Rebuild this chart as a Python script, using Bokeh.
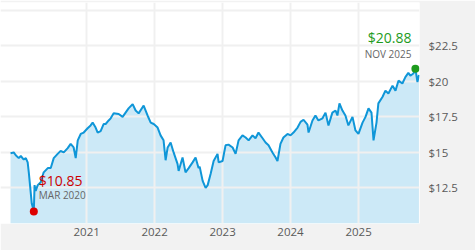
import pandas as pd
from bokeh.plotting import figure
from bokeh.models import Range1d, FixedTicker, CustomJSTickFormatter, Label, ColumnDataSource
from bokeh.embed import file_html
from bokeh.resources import INLINE

# ---- data ----
dates = [
    "2019-11-19", "2019-12-06", "2019-12-17", "2020-01-02", "2020-01-13", "2020-01-29", "2020-02-09",
    "2020-02-19", "2020-02-25", "2020-03-04", "2020-03-12", "2020-03-23", "2020-03-27", "2020-04-02",
    "2020-04-13", "2020-04-29", "2020-05-15", "2020-06-06", "2020-06-22", "2020-07-08", "2020-07-29",
    "2020-08-14", "2020-08-31", "2020-09-21", "2020-10-07", "2020-10-23", "2020-11-03", "2020-11-14",
    "2020-11-30", "2020-12-16", "2021-01-06", "2021-01-22", "2021-02-02", "2021-02-18", "2021-03-01",
    "2021-03-17", "2021-04-02", "2021-04-13", "2021-04-29", "2021-05-10", "2021-05-26", "2021-06-22",
    "2021-07-13", "2021-07-29", "2021-08-14", "2021-09-05", "2021-09-21", "2021-10-07", "2021-10-29",
    "2021-11-03", "2021-11-24", "2021-12-11", "2021-12-27", "2022-01-17", "2022-02-02", "2022-02-18",
    "2022-03-01", "2022-03-12", "2022-03-28", "2022-04-13", "2022-05-04", "2022-05-10", "2022-05-31",
    "2022-06-16", "2022-07-03", "2022-07-24", "2022-08-09", "2022-08-25", "2022-08-31", "2022-09-16",
    "2022-10-02", "2022-10-13", "2022-10-29", "2022-11-14", "2022-12-05", "2022-12-11", "2023-01-01",
    "2023-01-17", "2023-02-02", "2023-02-24", "2023-03-12", "2023-03-28", "2023-04-18", "2023-05-05",
    "2023-05-21", "2023-06-11", "2023-06-27", "2023-07-13", "2023-08-04", "2023-08-20", "2023-09-05",
    "2023-09-26", "2023-10-13", "2023-10-23", "2023-11-08", "2023-11-24", "2023-12-16", "2024-01-01",
    "2024-01-17", "2024-02-08", "2024-02-24", "2024-03-11", "2024-04-01", "2024-04-07", "2024-04-28",
    "2024-05-14", "2024-05-30", "2024-06-21", "2024-07-07", "2024-07-23", "2024-08-13", "2024-08-30",
    "2024-09-09", "2024-09-20", "2024-10-06", "2024-10-22", "2024-11-07", "2024-11-29", "2024-12-15",
    "2024-12-31", "2025-01-22", "2025-02-07", "2025-02-23", "2025-03-11", "2025-03-22", "2025-04-07",
    "2025-04-17", "2025-05-09", "2025-05-25", "2025-06-10", "2025-07-02", "2025-07-18", "2025-08-03",
    "2025-08-24", "2025-09-09", "2025-09-25", "2025-10-06", "2025-10-22", "2025-11-02", "2025-11-13",
    "2025-11-21",
]
prices = [
    14.95, 15.00, 14.80, 14.60, 14.75, 14.50, 14.60,
    14.30, 13.60, 12.50, 11.40, 10.85, 12.70, 12.30,
    12.70, 12.90, 13.60, 13.90, 13.90, 14.60, 14.90,
    15.10, 15.00, 15.30, 15.60, 15.35, 14.60, 15.85,
    16.30, 16.40, 16.70, 16.90, 17.10, 16.75, 16.40,
    16.50, 17.00, 17.00, 17.25, 17.40, 17.75, 17.70,
    17.50, 17.80, 18.10, 18.40, 17.95, 17.75, 18.20,
    18.30, 17.60, 17.10, 17.00, 16.75, 16.20, 15.85,
    14.45, 15.35, 15.70, 15.00, 14.20, 13.70, 14.65,
    13.60, 13.90, 14.30, 14.65, 13.90, 14.00, 13.00,
    12.50, 12.70, 13.50, 14.40, 14.90, 14.30, 14.40,
    15.50, 15.55, 15.35, 14.90, 15.85, 16.20, 16.05,
    15.85, 16.20, 16.00, 16.40, 16.00, 15.70, 15.50,
    15.00, 14.65, 14.40, 15.60, 16.05, 16.30, 16.20,
    16.40, 16.75, 17.15, 17.30, 16.95, 16.40, 17.25,
    17.60, 17.25, 17.40, 17.80, 16.90, 17.80, 17.95,
    17.60, 18.45, 17.95, 17.60, 16.90, 17.50, 16.55,
    16.30, 17.10, 17.50, 18.10, 17.80, 15.85, 17.10,
    18.45, 18.90, 19.35, 19.15, 19.70, 19.35, 20.05,
    19.85, 20.30, 20.60, 20.40, 20.55, 20.88, 19.95,
    20.45,
]
year_ticks = [2021, 2022, 2023, 2024, 2025]
price_ticks = [12.5, 15, 17.5, 20, 22.5, 25]

# ---- derived ----
dt = pd.to_datetime(dates)
src = ColumnDataSource(dict(x=dt, y=prices))
i_min = prices.index(min(prices))
i_max = prices.index(max(prices))
min_src = ColumnDataSource(dict(x=[dt[i_min]], y=[prices[i_min]]))
max_src = ColumnDataSource(dict(x=[dt[i_max]], y=[prices[i_max]]))
year_ms = [pd.Timestamp(f"{y}-01-01").value / 1e6 for y in year_ticks]

AX_FONT = "Open Sans"
AX_COLOR = "#5a5a5a"
GRID = "#f0f0f0"
PANEL = "#f2f2f2"

p = figure(
    width=475, height=250,
    x_axis_type="datetime",
    x_axis_location="below", y_axis_location="right",
    x_range=Range1d(dt[0] - pd.Timedelta(days=54), dt[-1] + pd.Timedelta(days=3)),
    y_range=Range1d(10, 25.55),
    output_backend="svg", toolbar_location=None,
    min_border_left=0, min_border_top=2, min_border_right=56, min_border_bottom=27,
    background_fill_color="white", border_fill_color=PANEL,
    outline_line_color=None,
)

p.varea(x="x", y1=10, y2="y", source=src, fill_color="#cce9f7", level="image")
p.line(x="x", y="y", source=src, line_color="#0f96d8", line_width=2)

# grids
p.xgrid.ticker = FixedTicker(ticks=year_ms)
p.ygrid.ticker = FixedTicker(ticks=price_ticks)
for g in (p.xgrid, p.ygrid):
    g.grid_line_color = GRID
    g.grid_line_width = 2
    g.level = "underlay"

# axes
xa = p.xaxis[0]
xa.ticker = FixedTicker(ticks=year_ms)
xa.formatter = CustomJSTickFormatter(code="return String(new Date(tick).getUTCFullYear());")
ya = p.yaxis[0]
ya.ticker = FixedTicker(ticks=price_ticks)
ya.formatter = CustomJSTickFormatter(code="return tick >= 25 ? '' : '$' + tick;")
for ax in (xa, ya):
    ax.axis_line_color = None
    ax.major_tick_line_color = None
    ax.minor_tick_line_color = None
    ax.major_tick_out = 0
    ax.major_tick_in = 0
    ax.minor_tick_out = 0
    ax.minor_tick_in = 0
    ax.major_label_text_font = AX_FONT
    ax.major_label_text_font_size = "11.5px"
    ax.major_label_text_color = AX_COLOR
xa.major_label_standoff = 4
ya.major_label_standoff = 9

# markers
p.scatter(x="x", y="y", source=min_src, size=8, fill_color="#dd0000", line_color=None)
p.scatter(x="x", y="y", source=max_src, size=8, fill_color="#1e9b1e", line_color=None)

def month_label(ts):
    return ts.strftime("%b %Y").upper()

p.add_layout(Label(x=dt[i_min], y=prices[i_min], x_offset=5, y_offset=31,
                   text=f"${prices[i_min]:.2f}", text_font=AX_FONT, text_font_size="14px",
                   text_color="#cc0000", text_baseline="middle", text_align="left"))
p.add_layout(Label(x=dt[i_min], y=prices[i_min], x_offset=5, y_offset=16,
                   text=month_label(dt[i_min]), text_font=AX_FONT, text_font_size="10px",
                   text_color="#666666", text_baseline="middle", text_align="left"))
p.add_layout(Label(x=dt[i_max], y=prices[i_max], x_offset=-4, y_offset=31,
                   text=f"${prices[i_max]:.2f}", text_font=AX_FONT, text_font_size="14px",
                   text_color="#1e9b1e", text_baseline="middle", text_align="right"))
p.add_layout(Label(x=dt[i_max], y=prices[i_max], x_offset=-4, y_offset=15,
                   text=month_label(dt[i_max]), text_font=AX_FONT, text_font_size="10px",
                   text_color="#666666", text_baseline="middle", text_align="right"))

open("out.html", "w").write(file_html(p, INLINE))
